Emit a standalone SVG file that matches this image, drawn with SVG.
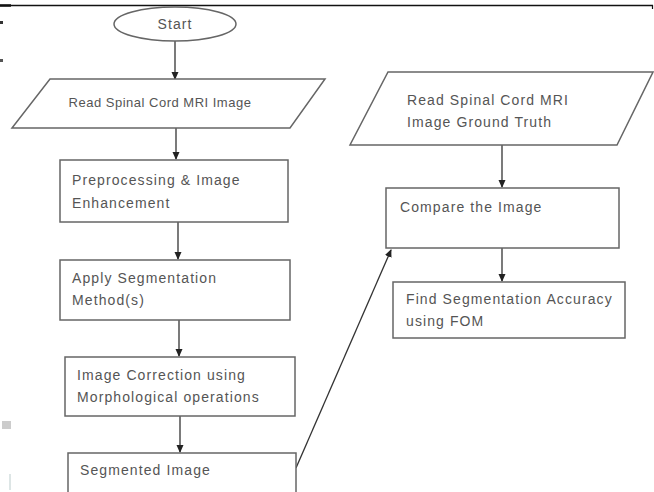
<svg xmlns="http://www.w3.org/2000/svg" width="654" height="492" viewBox="0 0 654 492">
<defs>
<marker id="ah" markerWidth="8" markerHeight="8" refX="7" refY="4" orient="auto" markerUnits="userSpaceOnUse">
<path d="M0,0.5 L8,4 L0,7.5 Z" fill="#222"/>
</marker>
<style>
.s{fill:#fff;stroke:#666;stroke-width:1.5}
.t{font-family:"Liberation Sans",Arial,sans-serif;font-size:14px;letter-spacing:1.1px;fill:#555}
.t1{font-size:13px;letter-spacing:0.5px}
.c{stroke:#333;stroke-width:1.3;fill:none;marker-end:url(#ah)}
</style>
</defs>
<rect width="654" height="492" fill="#fff"/>
<g id="frame">
<line x1="0" y1="5.5" x2="653" y2="5.5" stroke="#111" stroke-width="1.3"/>
<line x1="0" y1="5.5" x2="11" y2="5.5" stroke="#111" stroke-width="2.5"/>
<line x1="652.5" y1="5" x2="652.5" y2="9" stroke="#111" stroke-width="1.2"/>
<rect x="0" y="21" width="3" height="3" fill="#333"/>
<rect x="0" y="59" width="3" height="3" fill="#555"/>
<rect x="2" y="421" width="9" height="8" fill="#ccc"/>
<line x1="10" y1="474" x2="10" y2="490" stroke="#bcc" stroke-width="1"/>
</g>
<g id="connectors">
<line class="c" x1="175" y1="41" x2="175" y2="79"/>
<line class="c" x1="176" y1="128" x2="176" y2="159"/>
<line class="c" x1="178" y1="222" x2="178" y2="259"/>
<line class="c" x1="179" y1="320" x2="179" y2="356"/>
<line class="c" x1="180" y1="416" x2="180" y2="452"/>
<line class="c" x1="296" y1="468" x2="391" y2="250"/>
<line class="c" x1="502" y1="145" x2="502" y2="187"/>
<line class="c" x1="502" y1="248" x2="502" y2="281"/>
</g>
<g id="start">
<ellipse class="s" cx="175" cy="24" rx="61" ry="17"/>
<text class="t" x="175" y="29" text-anchor="middle">Start</text>
</g>
<g id="read-mri">
<polygon class="s" points="50,79 325,79 290,128 12,128"/>
<text class="t t1" x="160" y="107" text-anchor="middle">Read Spinal Cord MRI Image</text>
</g>
<g id="preprocess">
<rect class="s" x="60" y="160" width="228" height="62"/>
<text class="t" x="72" y="185">Preprocessing &amp; Image</text>
<text class="t" x="72" y="208">Enhancement</text>
</g>
<g id="segment">
<rect class="s" x="60" y="260" width="230" height="60"/>
<text class="t" x="72" y="283">Apply Segmentation</text>
<text class="t" x="72" y="305">Method(s)</text>
</g>
<g id="correction">
<rect class="s" x="65" y="357" width="230" height="59"/>
<text class="t" x="77" y="380">Image Correction using</text>
<text class="t" x="77" y="402">Morphological operations</text>
</g>
<g id="segmented">
<rect class="s" x="68" y="453" width="228" height="50"/>
<text class="t" x="80" y="475">Segmented Image</text>
</g>
<g id="read-gt">
<polygon class="s" points="388,72 653,72 617,145 350,145"/>
<text class="t" x="407" y="105">Read Spinal Cord MRI</text>
<text class="t" x="407" y="127">Image Ground Truth</text>
</g>
<g id="compare">
<rect class="s" x="386" y="188" width="233" height="60"/>
<text class="t" x="400" y="212">Compare the Image</text>
</g>
<g id="accuracy">
<rect class="s" x="393" y="282" width="232" height="56"/>
<text class="t" x="406" y="304">Find Segmentation Accuracy</text>
<text class="t" x="406" y="326">using FOM</text>
</g>
</svg>
